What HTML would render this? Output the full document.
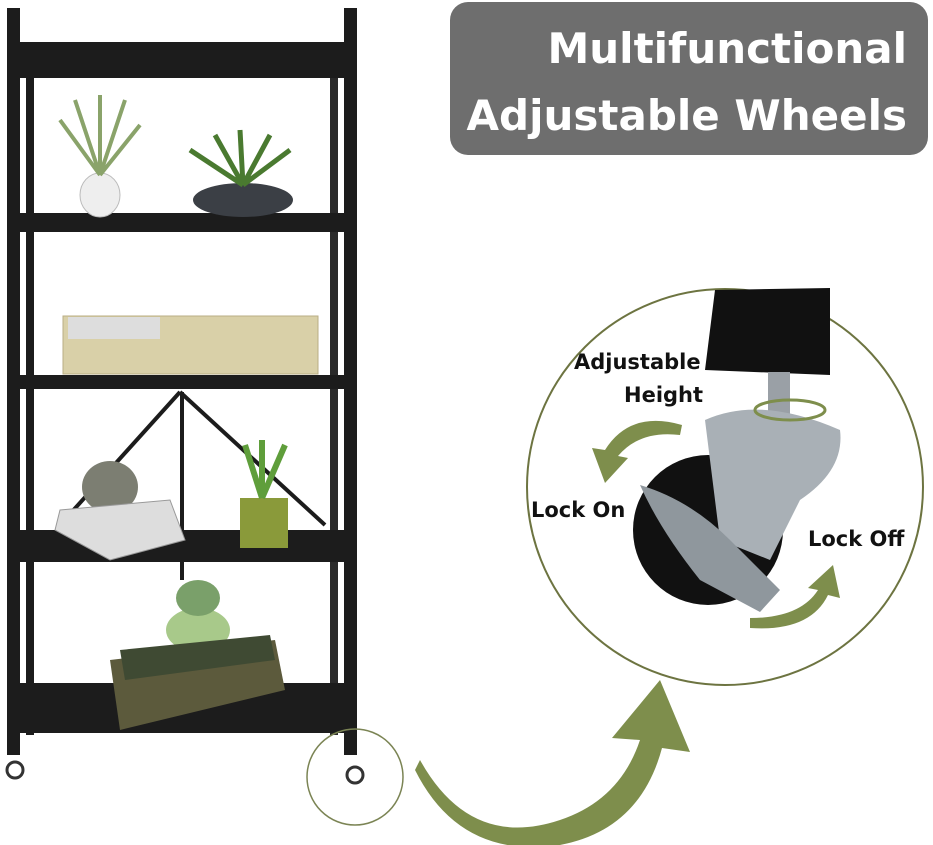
<!DOCTYPE html>
<html><head><meta charset="utf-8"><style>
html,body{margin:0;padding:0;background:#fff;width:933px;height:845px;overflow:hidden}
svg{display:block}
text{font-family:"DejaVu Sans","Liberation Sans",sans-serif;font-weight:bold}
</style></head><body>
<svg width="933" height="845" viewBox="0 0 933 845">
<rect width="933" height="845" fill="#fff"/>
<rect x="450" y="2" width="478" height="153" rx="18" fill="#6e6e6e"/>
<text x="907" y="63" font-size="42" fill="#fff" text-anchor="end">Multifunctional</text>
<text x="907" y="130" font-size="42" fill="#fff" text-anchor="end">Adjustable Wheels</text>

<g fill="#1c1c1c">
<rect x="7" y="8" width="13" height="747"/>
<rect x="344" y="8" width="13" height="747"/>
<rect x="26" y="45" width="8" height="690"/>
<rect x="330" y="45" width="8" height="690" fill="#2a2a2a"/>
<rect x="20" y="42" width="324" height="36"/>
<rect x="20" y="213" width="324" height="19"/>
<rect x="20" y="375" width="324" height="14"/>
<rect x="20" y="530" width="324" height="32"/>
<rect x="20" y="683" width="324" height="50"/>
</g>
<g stroke="#1c1c1c" stroke-width="4">
<line x1="180" y1="392" x2="60" y2="525"/><line x1="180" y1="392" x2="325" y2="525"/>
<line x1="182" y1="392" x2="182" y2="580"/>
</g>
<circle cx="15" cy="770" r="8" fill="none" stroke="#333" stroke-width="3"/>
<circle cx="355" cy="775" r="8" fill="none" stroke="#333" stroke-width="3"/>
<ellipse cx="100" cy="195" rx="20" ry="22" fill="#eee" stroke="#bbb"/>
<path d="M100 175 L60 120 M100 175 L140 125 M100 175 L100 95 M100 175 L75 100 M100 175 L125 100" stroke="#8aa36a" stroke-width="4"/>
<ellipse cx="243" cy="200" rx="50" ry="17" fill="#3b3f45"/>
<path d="M243 185 L190 150 M243 185 L290 150 M243 185 L240 130 M243 185 L215 135 M243 185 L270 135" stroke="#4a7a30" stroke-width="5"/>
<rect x="63" y="316" width="255" height="58" fill="#d9d0a8" stroke="#b9ae85"/>
<rect x="68" y="317" width="92" height="22" fill="#ddd"/>
<ellipse cx="110" cy="487" rx="28" ry="26" fill="#7c7e72"/>
<path d="M60 510 L170 500 L185 540 L110 560 L55 530 Z" fill="#ddd" stroke="#999"/>
<rect x="240" y="498" width="48" height="50" fill="#8a9a3a"/>
<path d="M262 498 L245 445 M262 498 L285 445 M262 498 L262 440" stroke="#5f9e3b" stroke-width="6"/>
<ellipse cx="198" cy="630" rx="32" ry="22" fill="#a8c98a"/>
<ellipse cx="198" cy="598" rx="22" ry="18" fill="#7aa06a"/>
<path d="M110 660 L275 640 L285 690 L120 730 Z" fill="#5c5a3c"/>
<path d="M120 650 L270 635 L275 660 L125 680 Z" fill="#3f4a33"/>

<circle cx="355" cy="777" r="48" fill="none" stroke="#7b8454" stroke-width="1.5"/>
<path d="M420 760 Q470 850 560 820 Q620 800 640 740 L612 738 L660 680 L690 752 L662 748 Q640 830 560 845 Q460 860 415 770 Z" fill="#7e8e4c"/>

<circle cx="725" cy="487" r="198" fill="#fff" stroke="#6d7441" stroke-width="2"/>
<path d="M715 290 L830 288 L830 375 L705 370 Z" fill="#111"/>
<rect x="768" y="372" width="22" height="55" fill="#9aa0a6"/>
<circle cx="708" cy="530" r="75" fill="#111"/>
<path d="M705 420 Q760 395 840 430 Q845 470 800 500 L770 560 L720 540 Z" fill="#a9b0b6"/>
<path d="M640 485 Q690 500 730 540 L780 590 L760 612 L700 580 Q660 530 640 485 Z" fill="#8f979d"/>
<ellipse cx="790" cy="410" rx="35" ry="10" fill="none" stroke="#7e8e4c" stroke-width="3"/>
<path d="M682 425 Q630 410 605 450 L592 448 L605 483 L628 458 L618 456 Q640 430 680 435 Z" fill="#7e8e4c"/>
<path d="M750 628 Q810 632 828 595 L840 598 L833 565 L808 588 L818 590 Q800 618 750 618 Z" fill="#7e8e4c"/>
<text x="574" y="369" font-size="21" fill="#111">Adjustable</text>
<text x="624" y="402" font-size="21" fill="#111">Height</text>
<text x="531" y="517" font-size="21" fill="#111">Lock On</text>
<text x="808" y="546" font-size="21" fill="#111">Lock Off</text>
</svg>
</body></html>
